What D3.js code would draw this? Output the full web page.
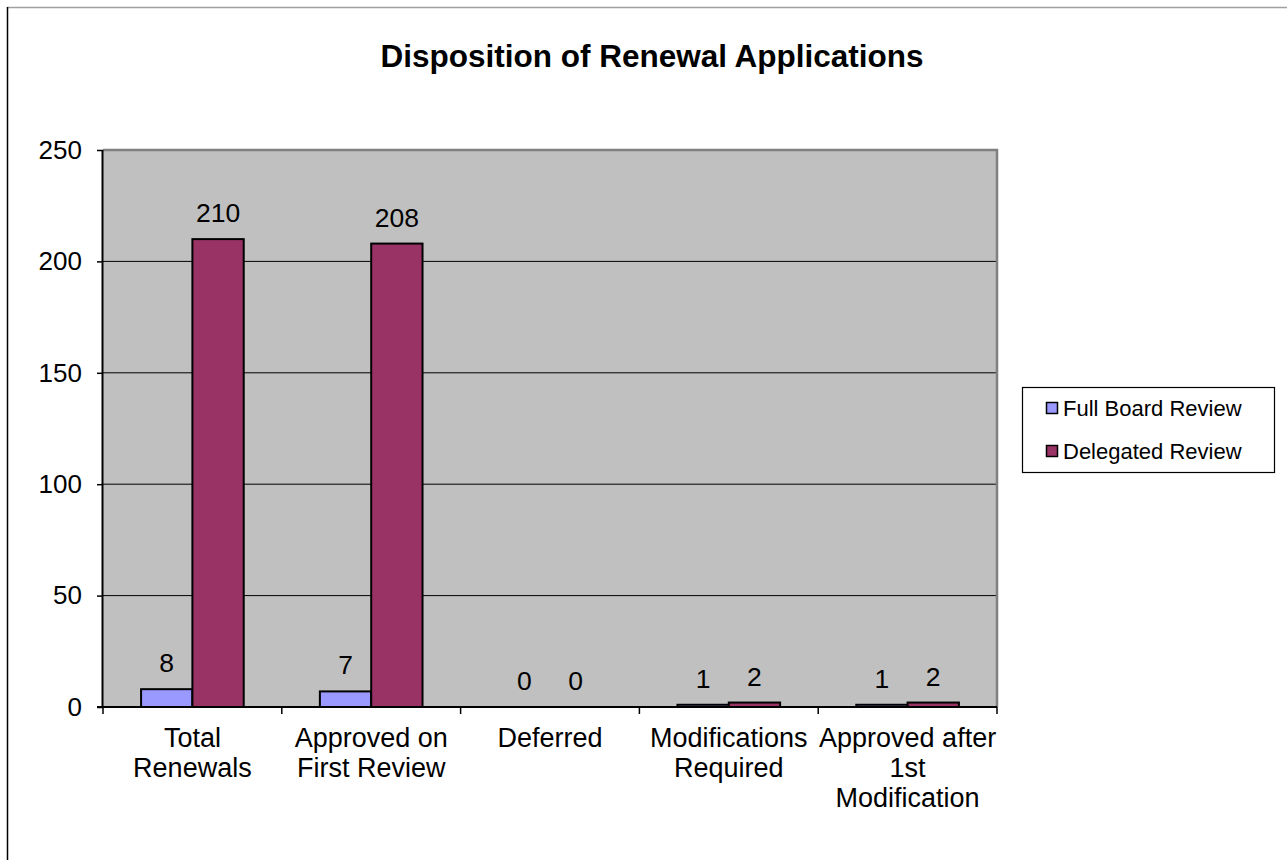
<!DOCTYPE html>
<html>
<head>
<meta charset="utf-8">
<script src="https://cdn.jsdelivr.net/npm/d3@7"></script>
<style>
  html, body { margin: 0; padding: 0; background: #fff; }
  svg { display: block; font-family: "Liberation Sans", Arial, sans-serif; }
</style>
</head>
<body>
<svg id="chart" width="1287" height="860"></svg>
<script>
// Category labels, one entry per line of the wrapped label
const categories = ["Total Renewals", "Approved on First Review", "Deferred", "Modifications Required", "Approved after 1st Modification"];
const categoryLines = [
  ["Total", "Renewals"],
  ["Approved on", "First Review"],
  ["Deferred"],
  ["Modifications", "Required"],
  ["Approved after", "1st", "Modification"]
];
const seriesNames = ["Full Board Review", "Delegated Review"];
const fullBoard = [8, 7, 0, 1, 1];
const delegated = [210, 208, 0, 2, 2];
const yTicks = [0, 50, 100, 150, 200, 250];
const seriesColors = ["#9999FF", "#993366"];

const svg = d3.select("#chart");

// Outer chart frame (top and left edges visible)
svg.append("line").attr("x1", 7).attr("x2", 1287).attr("y1", 7.5).attr("y2", 7.5)
  .attr("stroke", "#a0a0a0").attr("stroke-width", 1.5);
svg.append("line").attr("x1", 7.5).attr("x2", 7.5).attr("y1", 7).attr("y2", 860)
  .attr("stroke", "#000").attr("stroke-width", 1.5);

// Title
svg.append("text").attr("x", 652).attr("y", 67).attr("text-anchor", "middle")
  .attr("font-size", 31.5).attr("font-weight", "bold").attr("fill", "#000")
  .text("Disposition of Renewal Applications");

const plot = { left: 103, top: 150, right: 997, bottom: 707 };

const x0 = d3.scaleBand().domain(categories).range([plot.left, plot.right]).padding(0);
const x1 = d3.scaleBand().domain(seriesNames).range([0, x0.bandwidth()])
  .paddingInner(0).paddingOuter(0.742);
const y = d3.scaleLinear().domain([0, 250]).range([plot.bottom, plot.top]);

// Plot background
svg.append("rect").attr("x", plot.left).attr("y", plot.top)
  .attr("width", plot.right - plot.left).attr("height", plot.bottom - plot.top)
  .attr("fill", "#C0C0C0");

// Horizontal gridlines
svg.append("g").selectAll("line").data(yTicks.filter(t => t > 0 && t < 250)).join("line")
  .attr("x1", plot.left).attr("x2", plot.right)
  .attr("y1", d => y(d)).attr("y2", d => y(d))
  .attr("stroke", "#000").attr("stroke-width", 1);

// Plot border: top and right in gray
svg.append("path")
  .attr("d", `M${plot.left},${plot.top}H${plot.right}V${plot.bottom}`)
  .attr("fill", "none").attr("stroke", "#808080").attr("stroke-width", 2.5);

// Bars
const rows = categories.map((c, i) => ({ cat: c, vals: [fullBoard[i], delegated[i]] }));
const groups = svg.append("g").selectAll("g").data(rows).join("g")
  .attr("transform", d => `translate(${x0(d.cat)},0)`);

groups.selectAll("rect").data(d => d.vals.map((v, j) => ({ name: seriesNames[j], v, j })))
  .join("rect")
  .attr("x", d => x1(d.name))
  .attr("y", d => y(d.v))
  .attr("width", x1.bandwidth())
  .attr("height", d => y(0) - y(d.v))
  .attr("fill", d => seriesColors[d.j])
  .attr("stroke", "#000").attr("stroke-width", 2);

// Value labels
groups.selectAll("text").data(d => d.vals.map((v, j) => ({ name: seriesNames[j], v })))
  .join("text")
  .attr("x", d => x1(d.name) + x1.bandwidth() / 2)
  .attr("y", d => y(d.v) - 17)
  .attr("text-anchor", "middle").attr("font-size", 26.5).attr("fill", "#000")
  .text(d => d.v);

// Y axis
const yAxis = d3.axisLeft(y).tickValues(yTicks).tickSize(6).tickPadding(15);
const gy = svg.append("g").attr("transform", `translate(${plot.left},0)`).call(yAxis);
gy.select(".domain").attr("stroke", "#000").attr("stroke-width", 2).attr("d", `M-0.5,${plot.top}V${plot.bottom}`);
gy.selectAll(".tick line").attr("stroke", "#000").attr("stroke-width", 1.5);
gy.selectAll(".tick text").attr("font-size", 26).attr("fill", "#000")
  .attr("font-family", "'Liberation Sans', Arial, sans-serif");

// X axis baseline and category boundary ticks
svg.append("line").attr("x1", plot.left - 6).attr("x2", plot.right)
  .attr("y1", plot.bottom).attr("y2", plot.bottom)
  .attr("stroke", "#000").attr("stroke-width", 2);
const bounds = categories.map(c => x0(c)).concat([plot.right]);
svg.append("g").selectAll("line").data(bounds).join("line")
  .attr("x1", d => d).attr("x2", d => d)
  .attr("y1", plot.bottom).attr("y2", plot.bottom + 7)
  .attr("stroke", "#000").attr("stroke-width", 1.5);

// Category labels
const catText = svg.append("g").selectAll("text").data(categories).join("text")
  .attr("text-anchor", "middle").attr("font-size", 27).attr("fill", "#000");
catText.each(function (c, i) {
  const t = d3.select(this);
  categoryLines[i].forEach((line, k) => {
    t.append("tspan").attr("x", x0(c) + x0.bandwidth() / 2).attr("y", 747 + k * 30).text(line);
  });
});

// Legend
const legend = svg.append("g");
legend.append("rect").attr("x", 1022.5).attr("y", 387.5).attr("width", 252).attr("height", 85)
  .attr("fill", "#fff").attr("stroke", "#000").attr("stroke-width", 1.2);
seriesNames.forEach((name, i) => {
  const cy = 408 + i * 43;
  legend.append("rect").attr("x", 1046.5).attr("y", cy - 5.5).attr("width", 11).attr("height", 11)
    .attr("fill", seriesColors[i]).attr("stroke", "#000").attr("stroke-width", 1.5);
  legend.append("text").attr("x", 1063).attr("y", cy + 7.5)
    .attr("font-size", 22).attr("fill", "#000").text(name);
});
</script>
</body>
</html>
